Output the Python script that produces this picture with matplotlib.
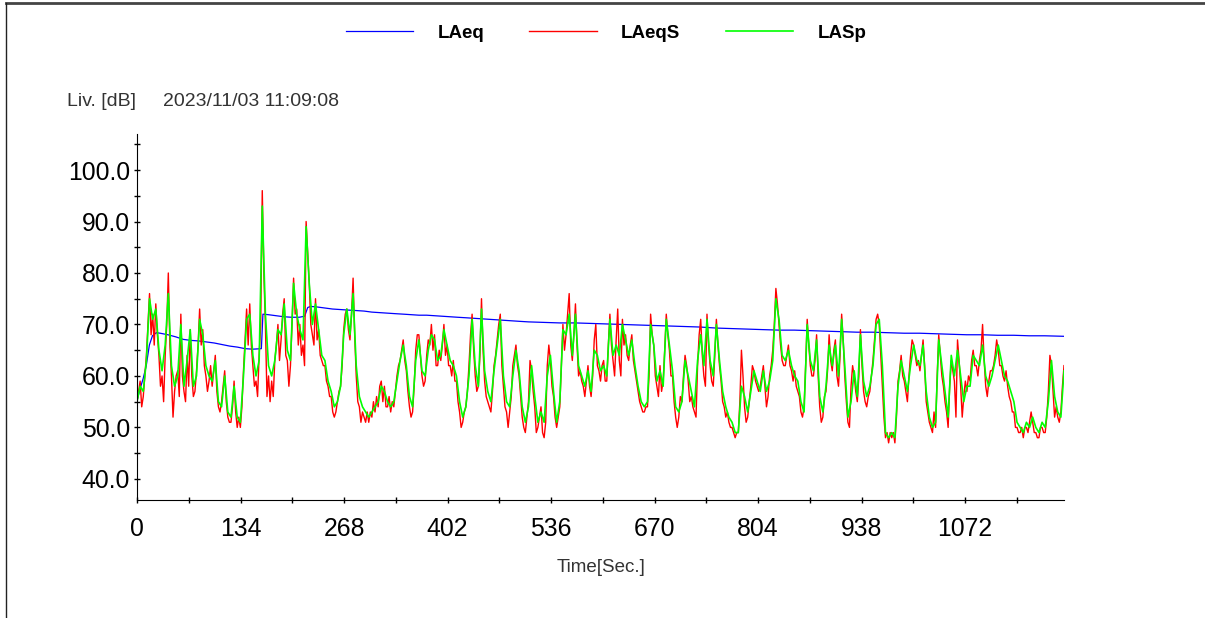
import numpy as np
import matplotlib.pyplot as plt
from matplotlib.lines import Line2D
from matplotlib.ticker import MultipleLocator, FormatStrFormatter

plt.rcParams['font.family'] = ['Liberation Sans', 'DejaVu Sans']

duration = 1200  # seconds in the record

# LASp, sampled evenly over the record (dB)
lasp = [
    55, 58, 57, 63, 75, 71, 73, 65, 61, 66,
    76, 62, 58, 60, 70, 58, 63, 69, 58, 60,
    71, 68, 62, 60, 59, 63, 55, 54, 60, 53,
    52, 58, 52, 51, 60, 71, 72, 64, 60, 63,
    93, 72, 62, 60, 63, 69, 68, 74, 65, 63,
    78, 72, 69, 67, 89, 78, 70, 74, 69, 64,
    63, 59, 57, 54, 55, 58, 68, 73, 68, 76,
    62, 56, 54, 53, 52, 53, 54, 55, 58, 57,
    55, 54, 55, 59, 63, 66, 62, 56, 54, 63,
    67, 61, 60, 65, 68, 67, 63, 64, 69, 66,
    63, 62, 60, 55, 52, 54, 60, 71, 62, 58,
    73, 61, 57, 55, 61, 66, 71, 60, 55, 54,
    60, 65, 61, 54, 51, 54, 62, 56, 51, 53,
    51, 60, 64, 57, 51, 55, 69, 68, 72, 64,
    72, 62, 60, 58, 61, 57, 65, 64, 61, 62,
    60, 71, 64, 66, 64, 70, 67, 64, 67, 62,
    58, 55, 54, 55, 70, 66, 59, 61, 58, 71,
    66, 61, 54, 53, 55, 63, 60, 57, 54, 63,
    68, 62, 71, 63, 60, 70, 63, 57, 54, 52,
    51, 49, 49, 58, 56, 53, 57, 61, 59, 57,
    61, 57, 59, 63, 75, 71, 64, 63, 65, 62,
    60, 59, 55, 53, 70, 63, 61, 67, 56, 53,
    58, 66, 62, 66, 60, 71, 62, 52, 55, 61,
    56, 68, 59, 56, 58, 62, 70, 71, 62, 49,
    48, 49, 48, 58, 63, 60, 57, 62, 66, 63,
    62, 66, 57, 52, 50, 51, 67, 62, 57, 52,
    64, 60, 65, 60, 55, 58, 58, 64, 63, 62,
    66, 60, 58, 60, 63, 66, 63, 60, 59, 57,
    55, 51, 50, 49, 51, 50, 52, 50, 49, 51,
    50, 55, 63, 56, 53, 52, 61,
]

# LAeqS, twice the sample rate of LASp (dB)
laeqs = [
    55, 57, 59, 54, 56, 60, 64, 70, 76, 68, 72, 66, 74, 68, 64, 58, 60, 55, 64, 70,
    80, 66, 60, 52, 57, 60, 61, 56, 72, 60, 57, 55, 64, 58, 69, 60, 56, 57, 61, 66,
    73, 66, 69, 62, 60, 57, 59, 62, 58, 61, 64, 57, 54, 53, 55, 58, 61, 55, 52, 51,
    51, 54, 59, 53, 50, 52, 50, 54, 61, 67, 73, 66, 74, 66, 62, 58, 59, 56, 64, 70,
    96, 80, 70, 56, 60, 55, 59, 56, 63, 66, 70, 63, 67, 72, 75, 64, 63, 58, 62, 70,
    79, 72, 73, 66, 70, 64, 66, 62, 90, 84, 78, 70, 68, 66, 75, 67, 69, 64, 63, 62,
    62, 59, 58, 56, 56, 53, 52, 53, 55, 57, 58, 62, 69, 72, 73, 69, 67, 72, 79, 68,
    60, 55, 54, 51, 53, 52, 51, 53, 51, 53, 52, 55, 53, 56, 54, 58, 59, 55, 58, 54,
    54, 56, 53, 55, 54, 57, 60, 62, 63, 65, 67, 63, 61, 57, 54, 52, 53, 58, 65, 68,
    68, 64, 60, 58, 59, 64, 67, 66, 70, 65, 68, 62, 62, 65, 63, 66, 70, 64, 66, 62,
    62, 60, 63, 59, 59, 55, 53, 50, 51, 53, 54, 57, 62, 68, 72, 65, 60, 57, 58, 64,
    75, 65, 59, 56, 55, 54, 53, 57, 62, 64, 67, 70, 72, 62, 58, 54, 53, 50, 53, 56,
    62, 64, 66, 62, 60, 56, 52, 50, 49, 52, 55, 63, 61, 57, 54, 49, 50, 52, 54, 49,
    48, 51, 62, 66, 63, 58, 56, 52, 50, 52, 54, 62, 70, 65, 68, 72, 76, 66, 63, 68,
    74, 66, 60, 61, 59, 58, 56, 59, 62, 58, 56, 60, 67, 70, 62, 61, 59, 62, 63, 59,
    59, 66, 72, 66, 63, 60, 67, 73, 63, 60, 71, 66, 68, 64, 63, 66, 68, 63, 61, 59,
    57, 55, 54, 53, 53, 54, 54, 60, 72, 68, 66, 60, 58, 56, 62, 57, 59, 65, 72, 68,
    65, 60, 60, 55, 52, 50, 52, 56, 55, 60, 64, 62, 59, 55, 56, 54, 53, 52, 62, 68,
    71, 64, 60, 58, 72, 66, 62, 59, 58, 64, 71, 66, 62, 59, 55, 54, 52, 53, 51, 50,
    50, 49, 48, 49, 49, 55, 65, 60, 54, 51, 52, 55, 58, 62, 61, 59, 58, 57, 58, 60,
    62, 58, 54, 56, 60, 62, 65, 70, 77, 74, 70, 66, 63, 62, 62, 64, 66, 62, 61, 59,
    61, 58, 57, 56, 53, 52, 54, 62, 71, 66, 62, 60, 60, 63, 68, 60, 54, 51, 52, 56,
    57, 61, 68, 63, 61, 65, 67, 60, 58, 64, 72, 67, 60, 55, 51, 50, 58, 62, 60, 57,
    55, 60, 69, 62, 57, 55, 54, 56, 57, 60, 63, 67, 71, 72, 70, 64, 58, 52, 48, 49,
    47, 49, 48, 49, 47, 52, 59, 61, 64, 60, 59, 57, 55, 60, 64, 67, 66, 64, 62, 63,
    61, 64, 67, 62, 55, 53, 51, 50, 49, 53, 50, 60, 68, 64, 60, 58, 55, 53, 50, 58,
    63, 61, 59, 52, 67, 63, 58, 52, 56, 59, 57, 60, 59, 63, 65, 62, 62, 60, 63, 65,
    70, 63, 58, 56, 59, 61, 61, 62, 64, 67, 65, 62, 62, 60, 59, 61, 58, 56, 55, 53,
    53, 50, 50, 49, 49, 50, 48, 50, 50, 49, 51, 53, 51, 49, 49, 48, 48, 50, 50, 49,
    49, 52, 57, 64, 62, 57, 52, 54, 52, 51, 53, 58, 62,
]

# running LAeq (s, dB)
laeq_t = [0, 4, 8, 12, 16, 20, 25, 30, 40, 50, 60, 70, 80, 90, 100, 110, 120,
          130, 140, 150, 161, 163, 170, 180, 190, 200, 210, 217, 221, 225, 233,
          243, 253, 263, 273, 284, 294, 304, 314, 324, 334, 345, 355, 365, 375,
          385, 395, 405, 415, 426, 436, 446, 456, 466, 476, 486, 496, 507, 527,
          547, 567, 588, 608, 628, 648, 669, 689, 709, 729, 750, 770, 790, 810,
          831, 851, 871, 891, 912, 932, 952, 972, 993, 1013, 1033, 1053, 1074,
          1094, 1114, 1135, 1155, 1175, 1200]
laeq = [55.2, 57.5, 59.5, 62.0, 66.0, 67.8, 68.4, 68.3, 68.0, 67.6, 67.1, 66.9,
        66.8, 66.6, 66.4, 66.1, 65.8, 65.6, 65.3, 65.2, 65.3, 72.0, 71.9, 71.7,
        71.5, 71.4, 71.4, 71.6, 73.3, 73.5, 73.4, 73.2, 73.0, 72.9, 72.8, 72.7,
        72.6, 72.4, 72.3, 72.2, 72.1, 72.0, 71.9, 71.8, 71.8, 71.7, 71.6, 71.5,
        71.4, 71.3, 71.2, 71.1, 71.0, 70.9, 70.8, 70.7, 70.6, 70.5, 70.4, 70.3,
        70.3, 70.2, 70.1, 70.0, 69.9, 69.8, 69.7, 69.6, 69.5, 69.3, 69.2, 69.1,
        69.0, 68.9, 68.9, 68.8, 68.7, 68.6, 68.5, 68.5, 68.4, 68.3, 68.3, 68.2,
        68.1, 68.0, 68.0, 67.9, 67.9, 67.8, 67.8, 67.7]

t_lasp = np.linspace(0, duration, len(lasp))
t_laeqs = np.linspace(0, duration, len(laeqs))

W, H = 1205, 618
fig = plt.figure(figsize=(W / 100, H / 100), dpi=100)
ax = fig.add_axes([137 / W, 118 / H, 927 / W, 366 / H])

ax.plot(laeq_t, laeq, color='#0000ff', lw=0.9, label='LAeq')
ax.plot(t_laeqs, laeqs, color='#ff0000', lw=1.0, label='LAeqS')
ax.plot(t_lasp, lasp, color='#00ff00', lw=1.2, label='LASp')

ax.set_xlim(0, duration)
ax.set_ylim(35.9, 107)
ax.spines['top'].set_visible(False)
ax.spines['right'].set_visible(False)

ax.xaxis.set_major_locator(MultipleLocator(134))
ax.xaxis.set_minor_locator(MultipleLocator(67))
ax.yaxis.set_major_locator(MultipleLocator(10))
ax.yaxis.set_minor_locator(MultipleLocator(5))
ax.yaxis.set_major_formatter(FormatStrFormatter('%.1f'))
ax.tick_params(which='both', direction='inout', length=5, width=1)
ax.tick_params(axis='both', labelsize=17.8)
ax.tick_params(axis='x', pad=10)
ax.tick_params(axis='y', pad=2.5)

fig.legend(loc='center', bbox_to_anchor=(606 / W, 1 - 33 / H), ncol=3,
           frameon=False, prop={'weight': 'bold', 'size': 13.5},
           handlelength=3.6, handletextpad=1.3, columnspacing=2.4)

fig.text(67 / W, 1 - 101 / H, 'Liv. [dB]', va='center', fontsize=14, color='#333333')
fig.text(163 / W, 1 - 101 / H, '2023/11/03 11:09:08', va='center', fontsize=14,
         color='#333333')
fig.text(601 / W, 1 - 567 / H, 'Time[Sec.]', ha='center', va='center', fontsize=13.5,
         color='#333333')

# frame edges of the report page
fig.add_artist(Line2D([6 / W, 1], [1 - 3 / H, 1 - 3 / H], color='#444444', lw=2))
fig.add_artist(Line2D([6 / W, 6 / W], [0, 1 - 3 / H], color='#222222', lw=1))

fig.savefig('out.png', dpi=100)
